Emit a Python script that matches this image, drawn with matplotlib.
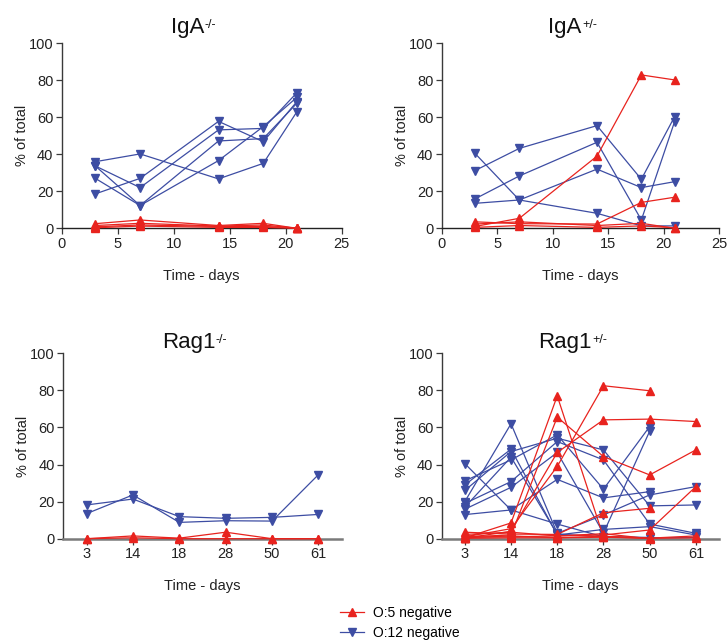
import matplotlib
matplotlib.use('Agg')
import matplotlib.pyplot as plt
from matplotlib.lines import Line2D
import numpy as np

plt.rcParams['font.family'] = ['Liberation Sans', 'DejaVu Sans']

nan = np.nan
RED = '#E8231E'
BLUE = '#3D4DA3'

# ---------------- data ----------------
iga_days = [3, 7, 14, 18, 21]
iga_ticks = [0, 5, 10, 15, 20, 25]

iga_ko_o5 = [
    [2.5, 4.5, 1.5, 2.7, 0.0],
    [1.5, 2.7, 1.2, 1.8, 0.0],
    [0.8, 1.8, 1.0, 1.0, 0.2],
    [0.3, 1.2, 0.5, 0.5, 0.0],
]
iga_ko_o12 = [
    [36.0, 40.2, 26.7, 35.1, 63.0],
    [33.7, 22.0, 53.2, 54.0, 73.3],
    [33.7, 12.3, 47.2, 48.5, 67.6],
    [27.0, 12.3, 36.6, 55.0, 70.8],
    [18.6, 27.0, 57.8, 46.8, 68.5],
]

iga_het_o5 = [
    [1.0, 5.4, 39.0, 82.9, 80.2],
    [3.5, 2.5, 2.3, 14.0, 16.8],
    [2.3, 3.5, 1.5, 2.7, 0.0],
    [0.5, 1.5, 0.5, 1.3, 0.3],
]
iga_het_o12 = [
    [40.5, 15.3, 8.1, 1.3, 1.3],
    [31.2, 43.2, 55.5, 26.5, 60.4],
    [15.9, 28.3, 46.5, 4.5, 57.7],
    [13.5, 15.3, 32.0, 22.0, 25.2],
]

rag_days = ['3', '14', '18', '28', '50', '61']

rag_ko_o5 = [
    [0.0, 1.5, 0.3, 3.5, 0.0, 0.0],
    [0.0, 0.5, 0.0, 0.0, 0.0, 0.0],
]
rag_ko_o12 = [
    [18.2, 21.4, 11.9, 11.0, 11.5, 13.1],
    [13.5, 23.6, 8.8, 9.7, 9.5, 34.6],
]

rag_het_o5 = [
    [1.0, 5.4, 39.0, 82.5, 79.8, nan],
    [3.5, 2.5, 2.3, 14.0, 16.4, nan],
    [2.3, 3.5, 1.5, 2.7, 0.0, nan],
    [0.5, 1.5, 0.5, 1.3, 0.3, nan],
    [0.5, 8.5, 77.0, 1.0, 0.2, 0.5],
    [1.0, 2.0, 65.6, 44.3, 34.4, 47.9],
    [0.3, 4.0, 46.5, 64.1, 64.5, 63.2],
    [0.8, 1.0, 1.5, 2.0, 4.7, 28.1],
    [0.2, 0.5, 0.5, 0.8, 0.3, 1.5],
]
rag_het_o12 = [
    [40.5, 15.5, 7.9, 1.0, 0.7, nan],
    [31.2, 42.5, 56.0, 26.7, 60.5, nan],
    [15.9, 27.7, 46.5, 3.0, 58.0, nan],
    [13.0, 15.5, 32.0, 22.0, 25.4, nan],
    [20.0, 62.0, 2.9, 12.8, 23.6, 28.1],
    [29.0, 48.3, 2.0, 5.0, 6.5, 2.0],
    [26.0, 47.0, 54.2, 47.9, 17.7, 18.2],
    [19.0, 30.8, 52.4, 42.5, 7.9, 2.9],
    [17.0, 44.0, 2.5, 1.0, 0.5, 0.7],
]

y_ticks = [0, 20, 40, 60, 80, 100]

panel_titles = [('IgA', '-/-'), ('IgA', '+/-'), ('Rag1', '-/-'), ('Rag1', '+/-')]
legend_labels = ['O:5 negative', 'O:12 negative']

# ---------------- figure ----------------
W, H = 728, 644
fig = plt.figure(figsize=(W / 100, H / 100), dpi=100)


def box(l, r, t, b):
    return [l / W, 1 - b / H, (r - l) / W, (b - t) / H]


ax1 = fig.add_axes(box(61.7, 341.7, 43.3, 228.3))
ax2 = fig.add_axes(box(441.7, 719.0, 43.3, 228.3))
ax3 = fig.add_axes(box(63.3, 341.7, 353.3, 538.7))
ax4 = fig.add_axes(box(441.7, 719.0, 353.3, 538.7))
axes = [ax1, ax2, ax3, ax4]


def draw(ax, x, o5, o12):
    for s in o12:
        ax.plot(x, s, color=BLUE, lw=0.9, marker='v', ms=5.5,
                clip_on=False, zorder=3)
    for s in o5:
        ax.plot(x, s, color=RED, lw=0.9, marker='^', ms=5.5,
                clip_on=False, zorder=4)


def style(ax, rag):
    for sp in ['top', 'right']:
        ax.spines[sp].set_visible(False)
    ax.spines['left'].set_color('#3a3a3a')
    ax.spines['left'].set_linewidth(1.0)
    if rag:
        ax.spines['bottom'].set_color('#7a7a7a')
        ax.spines['bottom'].set_linewidth(1.8)
    else:
        ax.spines['bottom'].set_color('#222222')
        ax.spines['bottom'].set_linewidth(1.0)
    ax.set_ylim(0, 100)
    ax.set_yticks(y_ticks)
    ax.tick_params(axis='both', labelsize=10.5, length=4, width=0.9,
                   color='#3a3a3a', labelcolor='#222222', pad=2)
    ax.set_ylabel('% of total', fontsize=10.5, color='#222222', labelpad=0)
    ax.set_xlabel('Time - days', fontsize=10.5, color='#222222',
                  labelpad=13)


draw(ax1, iga_days, iga_ko_o5, iga_ko_o12)
draw(ax2, iga_days, iga_het_o5, iga_het_o12)
xi = np.arange(len(rag_days))
draw(ax3, xi, rag_ko_o5, rag_ko_o12)
draw(ax4, xi, rag_het_o5, rag_het_o12)

for ax in (ax1, ax2):
    style(ax, False)
    ax.set_xlim(0, 25)
    ax.set_xticks(iga_ticks)
for ax in (ax3, ax4):
    style(ax, True)
    ax.set_xlim(-0.5, 5.5)
    ax.set_xticks(xi)
    ax.set_xticklabels(rag_days)

# titles with small superscripts (hyphens kept as typed)
renderer = fig.canvas.get_renderer()
baselines = [33.3, 33.3, 348.3, 348.3]
for ax, (main, sup), base in zip(axes, panel_titles, baselines):
    t1 = fig.text(0, 0, main, fontsize=16)
    t2 = fig.text(0, 0, sup, fontsize=9)
    w1 = t1.get_window_extent(renderer).width
    w2 = t2.get_window_extent(renderer).width
    t1.remove()
    t2.remove()
    bb = ax.get_position()
    cx = (bb.x0 + bb.x1) / 2 * W - 8
    x0 = cx - (w1 + w2) / 2
    fig.text(x0 / W, 1 - base / H, main, fontsize=16, va='baseline',
             ha='left', color='#111111')
    fig.text((x0 + w1 + 0.3) / W, 1 - (base - 5.5) / H, sup, fontsize=9,
             va='baseline', ha='left', color='#111111')

handles = [
    Line2D([], [], color=RED, lw=0.9, marker='^', ms=5.5),
    Line2D([], [], color=BLUE, lw=0.9, marker='v', ms=5.5),
]
fig.legend(handles, legend_labels, loc='upper left',
           bbox_to_anchor=(340 / W, 1 - 606 / H), frameon=False,
           fontsize=10, handlelength=1.7, handletextpad=0.7,
           labelspacing=0.45, borderpad=0, borderaxespad=0)

fig.savefig('out.png', dpi=100)
